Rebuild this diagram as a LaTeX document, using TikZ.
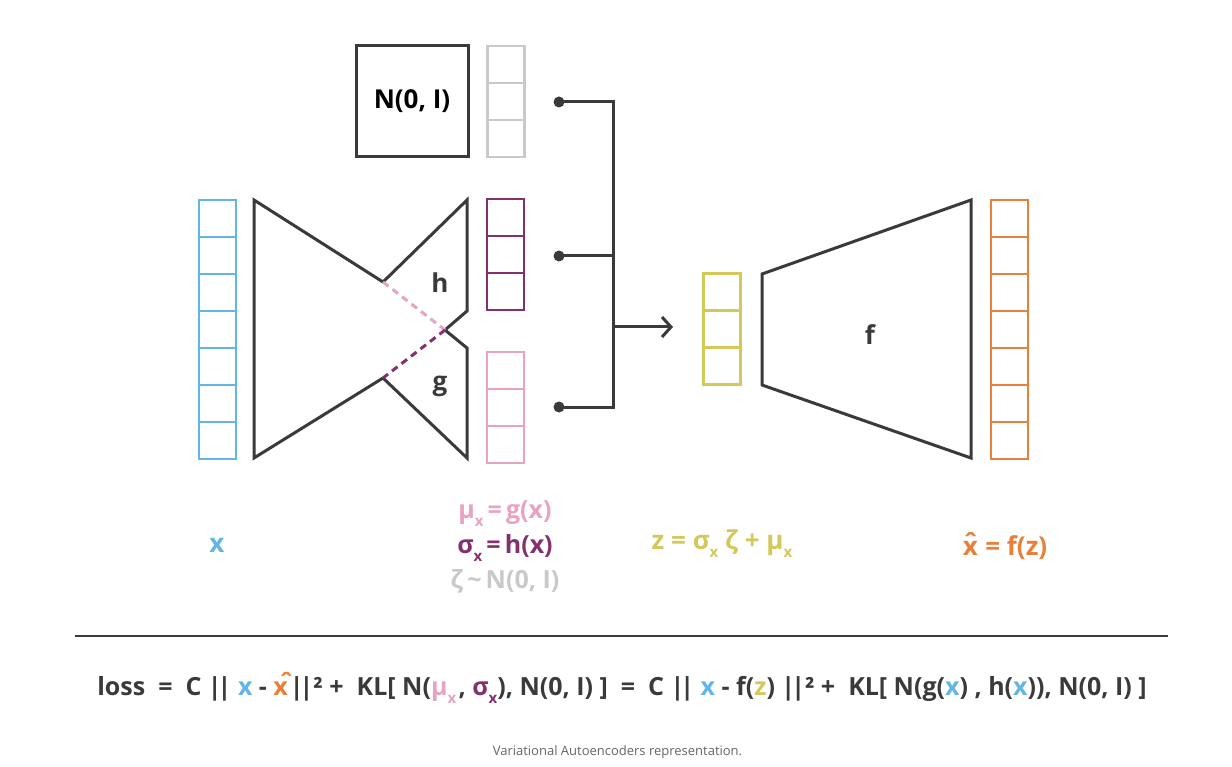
\documentclass[tikz,border=0pt]{standalone}
\usepackage{fontspec}
\setmainfont{Open Sans}
\usetikzlibrary{arrows.meta}
\definecolor{dk}{HTML}{3A3A3A}
\definecolor{cblue}{HTML}{62B6E4}
\definecolor{cgrey}{HTML}{C9C9C9}
\definecolor{cpurple}{HTML}{83306F}
\definecolor{cpink}{HTML}{E9A3C2}
\definecolor{cyellow}{HTML}{D3C85A}
\definecolor{corange}{HTML}{E8803A}
\definecolor{capgrey}{HTML}{666666}
\newcommand{\sbx}{\raisebox{-0.32em}{\fontsize{15}{15}\selectfont x}}
\newcommand{\xhatc}{\ooalign{x\cr\hfil\raisebox{0.08em}{\symbol{"02C6}}\hfil\cr}}
\newcommand{\xhatr}{x\rlap{\kern-0.36em\raisebox{0.14em}{\symbol{"02C6}}}\kern0.08em}
\newcommand{\dbar}{|\kern-0.16em|}
\begin{document}
\begin{tikzpicture}[x=1pt,y=-1pt,
  font=\bfseries\fontsize{26}{30}\selectfont,
  cell/.style={draw=#1, line width=2.8pt, minimum width=37pt, minimum height=37pt, inner sep=0pt, outer sep=0pt},
  ln/.style={draw=dk, line width=3pt, line join=miter},
  dsh/.style={line width=3pt, dash pattern=on 7pt off 5pt},
  lbl/.style={inner sep=0pt, anchor=base}]
\useasboundingbox (0,0) rectangle (1232,767);

% columns of cells
\foreach \i in {1,...,7} \node[cell=cblue] (xc\i) at (217.5, {200+37*(\i-0.5)}) {};
\foreach \i in {1,...,3} \node[cell=cgrey] (nc\i) at (506, {46+37*(\i-0.5)}) {};
\foreach \i in {1,...,3} \node[cell=cpurple] (sc\i) at (505.5, {199+37*(\i-0.5)}) {};
\foreach \i in {1,...,3} \node[cell=cpink] (mc\i) at (505.5, {352+37*(\i-0.5)}) {};
\foreach \i in {1,...,3} \node[cell=cyellow] (zc\i) at (722, {273+37.3*(\i-0.5)}) {};
\foreach \i in {1,...,7} \node[cell=corange] (oc\i) at (1009.5, {200+37*(\i-0.5)}) {};

% N(0,I) box
\node[draw=dk, line width=3pt, minimum width=112pt, minimum height=111pt, inner sep=0pt] (nbox) at (412,101.5) {N(0, I)};

% encoder
\coordinate (eTL) at (254,200);
\coordinate (eBL) at (254,458);
\coordinate (eU) at (383,282);
\coordinate (eL) at (383,378);
\coordinate (hT) at (467,200);
\coordinate (hB) at (467,311);
\coordinate (nk) at (445,330);
\coordinate (gT) at (467,348);
\coordinate (gB) at (467,458);
\draw[ln] (eU) -- (eTL) -- (eBL) -- (eL);
\draw[ln] (eU) -- (hT) -- (hB) -- (nk) -- (gT) -- (gB) -- (eL);
\draw[cpink, dsh] (eU) -- (nk);
\draw[cpurple, dsh] (nk) -- (eL);
\node[text=dk] (hl) at (440,283) {h};
\node[text=dk] (gl) at (440,386) {g};

% decoder
\coordinate (dTL) at (762,274);
\coordinate (dTR) at (971,200);
\coordinate (dBR) at (971,458);
\coordinate (dBL) at (762,385);
\draw[ln] (dTL) -- (dTR) -- (dBR) -- (dBL) -- cycle;
\node[text=dk] (fl) at (870,335) {f};

% connector
\coordinate (d1) at (559,102);
\coordinate (d2) at (559,256);
\coordinate (d3) at (559,407);
\coordinate (j1) at (613,102);
\coordinate (j2) at (613,256);
\coordinate (j3) at (613,407);
\coordinate (jm) at (613,327);
\coordinate (zin) at (673,327);
\draw[ln] (d1) -- (j1) -- (j3) -- (d3);
\draw[ln] (d2) -- (j2);
\draw[ln, -{Straight Barb[length=9pt,width=20pt]}] (jm) -- (zin);
\foreach \d in {d1,d2,d3} \fill[dk] (\d) circle (5.5);

% labels
\node[lbl, text=cblue] (lx) at (217,552) {x};
\node[lbl, text=cpink, font=\bfseries\fontsize{25}{30}\selectfont] (lmu) at (505,518) {μ\sbx{}\,=\,g(x)};
\node[lbl, text=cpurple, font=\bfseries\fontsize{25}{30}\selectfont] (lsig) at (505,553) {σ\sbx{}\,=\,h(x)};
\node[lbl, text=cgrey, font=\bfseries\fontsize{25}{30}\selectfont] (lzeta) at (505,588) {ζ\,\textasciitilde\,N(0, I)};
\node[lbl, text=cyellow] (lz) at (722,549) {z = σ\sbx{} ζ + μ\sbx};
\node[lbl, text=corange] (lxh) at (1005,555) {\xhatc{} = f(z)};

% rule
\coordinate (r1) at (75,636);
\coordinate (r2) at (1168,636);
\draw[dk, line width=1.5pt] (r1) -- (r2);

% loss formula
\node[lbl, text=dk, font=\bfseries\fontsize{25}{30}\selectfont] (loss) at (622,695) {loss\ \ =\ \ C \dbar{} {\color{cblue}x} - {\color{corange}\xhatr}\dbar²\ +\ \ KL[ N({\color{cpink}μ\sbx}\kern0.1em, {\color{cpurple}σ\sbx}), N(0, I) ]\ \ =\ \ C \dbar{} {\color{cblue}x} - f({\color{cyellow}z}) \dbar²\ +\ \ KL[ N(g({\color{cblue}x}) , h({\color{cblue}x})), N(0, I) ]};

% caption
\node[lbl, text=capgrey, font=\mdseries\fontsize{13}{15}\selectfont] (cap) at (617.5,755) {Variational Autoencoders representation.};
\end{tikzpicture}
\end{document}
